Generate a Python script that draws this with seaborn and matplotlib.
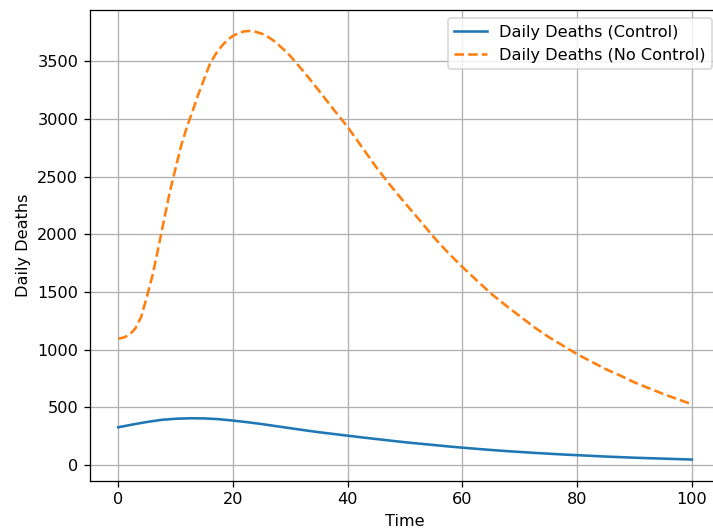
import matplotlib
matplotlib.use("Agg")
import matplotlib.pyplot as plt
import seaborn as sns

time_control = [0, 2.5, 5, 7.5, 10, 12.5, 15, 17.5, 20, 22.5, 25, 27.5, 30, 32.5, 35,
                37.5, 40, 42.5, 45, 47.5, 50, 52.5, 55, 57.5, 60, 62.5, 65, 67.5, 70,
                72.5, 75, 77.5, 80, 82.5, 85, 87.5, 90, 92.5, 95, 97.5, 100]

deaths_control = [326, 350, 372, 390, 400, 404, 403, 396, 384, 370, 354, 336, 318,
                  300, 283, 268, 253, 238, 224, 210, 196, 184, 172, 160, 149, 139,
                  129, 120, 112, 104, 97, 90, 84, 78, 72, 67, 62, 58, 54, 50, 46]

time_no_control = [0, 1, 2, 3, 4, 5, 6, 7, 8, 9, 10, 11, 12, 13, 14, 15, 16, 17, 18,
                   19, 20, 21, 22, 23, 24, 25, 26, 27, 28, 29, 30, 32.5, 35, 37.5,
                   40, 42.5, 45, 47.5, 50, 52.5, 55, 57.5, 60, 62.5, 65, 67.5, 70,
                   72.5, 75, 77.5, 80, 82.5, 85, 87.5, 90, 92.5, 95, 97.5, 100]

deaths_no_control = [1095, 1105, 1130, 1185, 1285, 1460, 1650, 1885, 2130, 2370,
                     2575, 2775, 2935, 3075, 3220, 3350, 3480, 3565, 3630, 3685,
                     3720, 3745, 3760, 3763, 3755, 3740, 3715, 3682, 3640, 3595,
                     3545, 3400, 3245, 3085, 2930, 2755, 2580, 2420, 2270, 2125,
                     1975, 1840, 1716, 1600, 1485, 1385, 1290, 1195, 1110, 1035,
                     960, 895, 830, 775, 715, 665, 615, 570, 526]

labels = ["Daily Deaths (Control)", "Daily Deaths (No Control)"]

plt.rcParams['font.family'] = ['DejaVu Sans']
dpi = 116
fig = plt.figure(figsize=(713 / dpi, 531 / dpi), dpi=dpi)
ax = fig.add_axes([89.6 / 713, 50 / 531, (720.5 - 89.6) / 713, 471 / 531])

sns.lineplot(x=time_control, y=deaths_control, ax=ax, color="#1f77b4",
             label=labels[0], linewidth=1.6)
sns.lineplot(x=time_no_control, y=deaths_no_control, ax=ax, color="#ff7f0e",
             label=labels[1], linewidth=1.6, linestyle="--")

ax.set_xlim(-5, 105)
ax.set_ylim(-140, 3945)
ax.set_xticks([0, 20, 40, 60, 80, 100])
ax.set_yticks([0, 500, 1000, 1500, 2000, 2500, 3000, 3500])
ax.set_xlabel("Time")
ax.set_ylabel("Daily Deaths")
ax.grid(True, color="#b0b0b0", linewidth=0.8)
ax.legend(loc="upper right")

fig.savefig("out.png", dpi=dpi)
